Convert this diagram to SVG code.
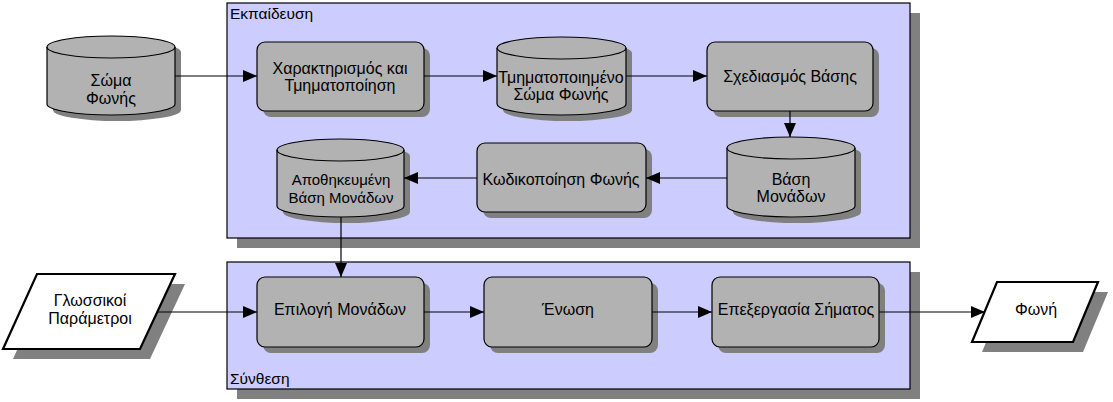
<svg xmlns="http://www.w3.org/2000/svg" width="1113" height="402" viewBox="0 0 1113 402">
<defs>
<style>
.cont{fill:#CCCCFF;stroke:#000;stroke-width:1.2}
.sh{fill:#808080;stroke:none}
.node{fill:#B2B2B2;stroke:#000;stroke-width:1.2}
.io{fill:#fff;stroke:#000;stroke-width:2.2}
.t{font-family:"Liberation Sans",Arial,sans-serif;font-size:16px;fill:#000;text-anchor:middle}
.ts{font-size:15px}
.lbl{font-family:"Liberation Sans",Arial,sans-serif;font-size:15.5px;fill:#000}
.c{fill:none;stroke:#000;stroke-width:1.2}
</style>
<marker id="ah" markerWidth="14" markerHeight="12" refX="14" refY="6" orient="auto" markerUnits="userSpaceOnUse"><path d="M0,0 L14,6 L0,12 z" fill="#000"/></marker>
</defs>
<rect width="1113" height="402" fill="#fff"/>
<g id="training">
<rect class="sh" x="237" y="13" width="683" height="235"/>
<rect class="cont" x="227" y="3" width="683" height="235"/>
<text class="lbl" x="230" y="19">Εκπαίδευση</text>
</g>
<g id="synthesis">
<rect class="sh" x="237" y="272" width="683" height="127"/>
<rect class="cont" x="227" y="262" width="683" height="127"/>
<text class="lbl" x="230" y="384">Σύνθεση</text>
</g>
<g id="soma">
<path class="sh" d="M53,52 A64,11 0 0 1 181,52 V110 A64,11 0 0 1 53,110 Z"/>
<path class="node" d="M47,47 A64,11 0 0 1 175,47 V104 A64,11 0 0 1 47,104 Z"/>
<path class="c" d="M47,47 A64,11 0 0 0 175,47"/>
<text class="t" x="111" y="86">Σώμα</text>
<text class="t" x="111" y="104">Φωνής</text>
</g>
<g id="xarakt">
<rect class="sh" x="263" y="48" width="167" height="69" rx="8"/>
<rect class="node" x="257" y="42" width="167" height="69" rx="8"/>
<text class="t" x="340" y="74">Χαρακτηρισμός και</text>
<text class="t" x="340" y="91">Τμηματοποίηση</text>
</g>
<g id="tmimat">
<path class="sh" d="M503,53 A64.5,11 0 0 1 632,53 V110 A64.5,11 0 0 1 503,110 Z"/>
<path class="node" d="M497,48 A64.5,11 0 0 1 626,48 V104 A64.5,11 0 0 1 497,104 Z"/>
<path class="c" d="M497,48 A64.5,11 0 0 0 626,48"/>
<text class="t" x="561" y="83">Τμηματοποιημένο</text>
<text class="t" x="561" y="100">Σώμα Φωνής</text>
</g>
<g id="sxed">
<rect class="sh" x="713" y="48" width="166" height="69" rx="8"/>
<rect class="node" x="707" y="42" width="166" height="69" rx="8"/>
<text class="t" x="790" y="82">Σχεδιασμός Βάσης</text>
</g>
<g id="vasi">
<path class="sh" d="M733,154 A64,11 0 0 1 861,154 V212 A64,11 0 0 1 733,212 Z"/>
<path class="node" d="M727,148 A64,11 0 0 1 855,148 V206 A64,11 0 0 1 727,206 Z"/>
<path class="c" d="M727,148 A64,11 0 0 0 855,148"/>
<text class="t" x="791" y="185">Βάση</text>
<text class="t" x="791" y="202">Μονάδων</text>
</g>
<g id="kodik">
<rect class="sh" x="483" y="149" width="169" height="69" rx="8"/>
<rect class="node" x="477" y="143" width="169" height="69" rx="8"/>
<text class="t" x="561" y="185">Κωδικοποίηση Φωνής</text>
</g>
<g id="apoth">
<path class="sh" d="M283,156 A63.5,11 0 0 1 410,156 V212 A63.5,11 0 0 1 283,212 Z"/>
<path class="node" d="M277,150 A63.5,11 0 0 1 404,150 V206 A63.5,11 0 0 1 277,206 Z"/>
<path class="c" d="M277,150 A63.5,11 0 0 0 404,150"/>
<text class="t ts" x="341" y="185">Αποθηκευμένη</text>
<text class="t ts" x="341" y="203">Βάση Μονάδων</text>
</g>
<g id="glossikoi">
<polygon class="sh" points="47,284 185,284 150,359 13,359"/>
<polygon class="io" points="37,274 175,274 140,349 3,349"/>
<text class="t" x="90" y="306">Γλωσσικοί</text>
<text class="t" x="90" y="324">Παράμετροι</text>
</g>
<g id="epilogi">
<rect class="sh" x="263" y="283" width="167" height="70" rx="8"/>
<rect class="node" x="257" y="277" width="167" height="70" rx="8"/>
<text class="t" x="340" y="315">Επιλογή Μονάδων</text>
</g>
<g id="enosi">
<rect class="sh" x="490" y="283" width="168" height="70" rx="8"/>
<rect class="node" x="484" y="277" width="168" height="70" rx="8"/>
<text class="t" x="568" y="315">Ένωση</text>
</g>
<g id="epexerg">
<rect class="sh" x="718" y="283" width="167" height="70" rx="8"/>
<rect class="node" x="712" y="277" width="167" height="70" rx="8"/>
<text class="t" x="796" y="315">Επεξεργασία Σήματος</text>
</g>
<g id="foni">
<polygon class="sh" points="1007,292 1108,292 1083,352 982,352"/>
<polygon class="io" points="997,282 1098,282 1073,342 972,342"/>
<text class="t" x="1036" y="315">Φωνή</text>
</g>
<g id="connectors">
<path class="c" marker-end="url(#ah)" d="M175,76 H257"/>
<path class="c" marker-end="url(#ah)" d="M424,76 H497"/>
<path class="c" marker-end="url(#ah)" d="M626,76 H707"/>
<path class="c" marker-end="url(#ah)" d="M790,111 V137"/>
<path class="c" marker-end="url(#ah)" d="M727,178 H646"/>
<path class="c" marker-end="url(#ah)" d="M477,178 H404"/>
<path class="c" marker-end="url(#ah)" d="M341,217 V277"/>
<path class="c" marker-end="url(#ah)" d="M157,312 H257"/>
<path class="c" marker-end="url(#ah)" d="M424,312 H484"/>
<path class="c" marker-end="url(#ah)" d="M652,312 H712"/>
<path class="c" marker-end="url(#ah)" d="M879,312 H985"/>
</g>
</svg>
